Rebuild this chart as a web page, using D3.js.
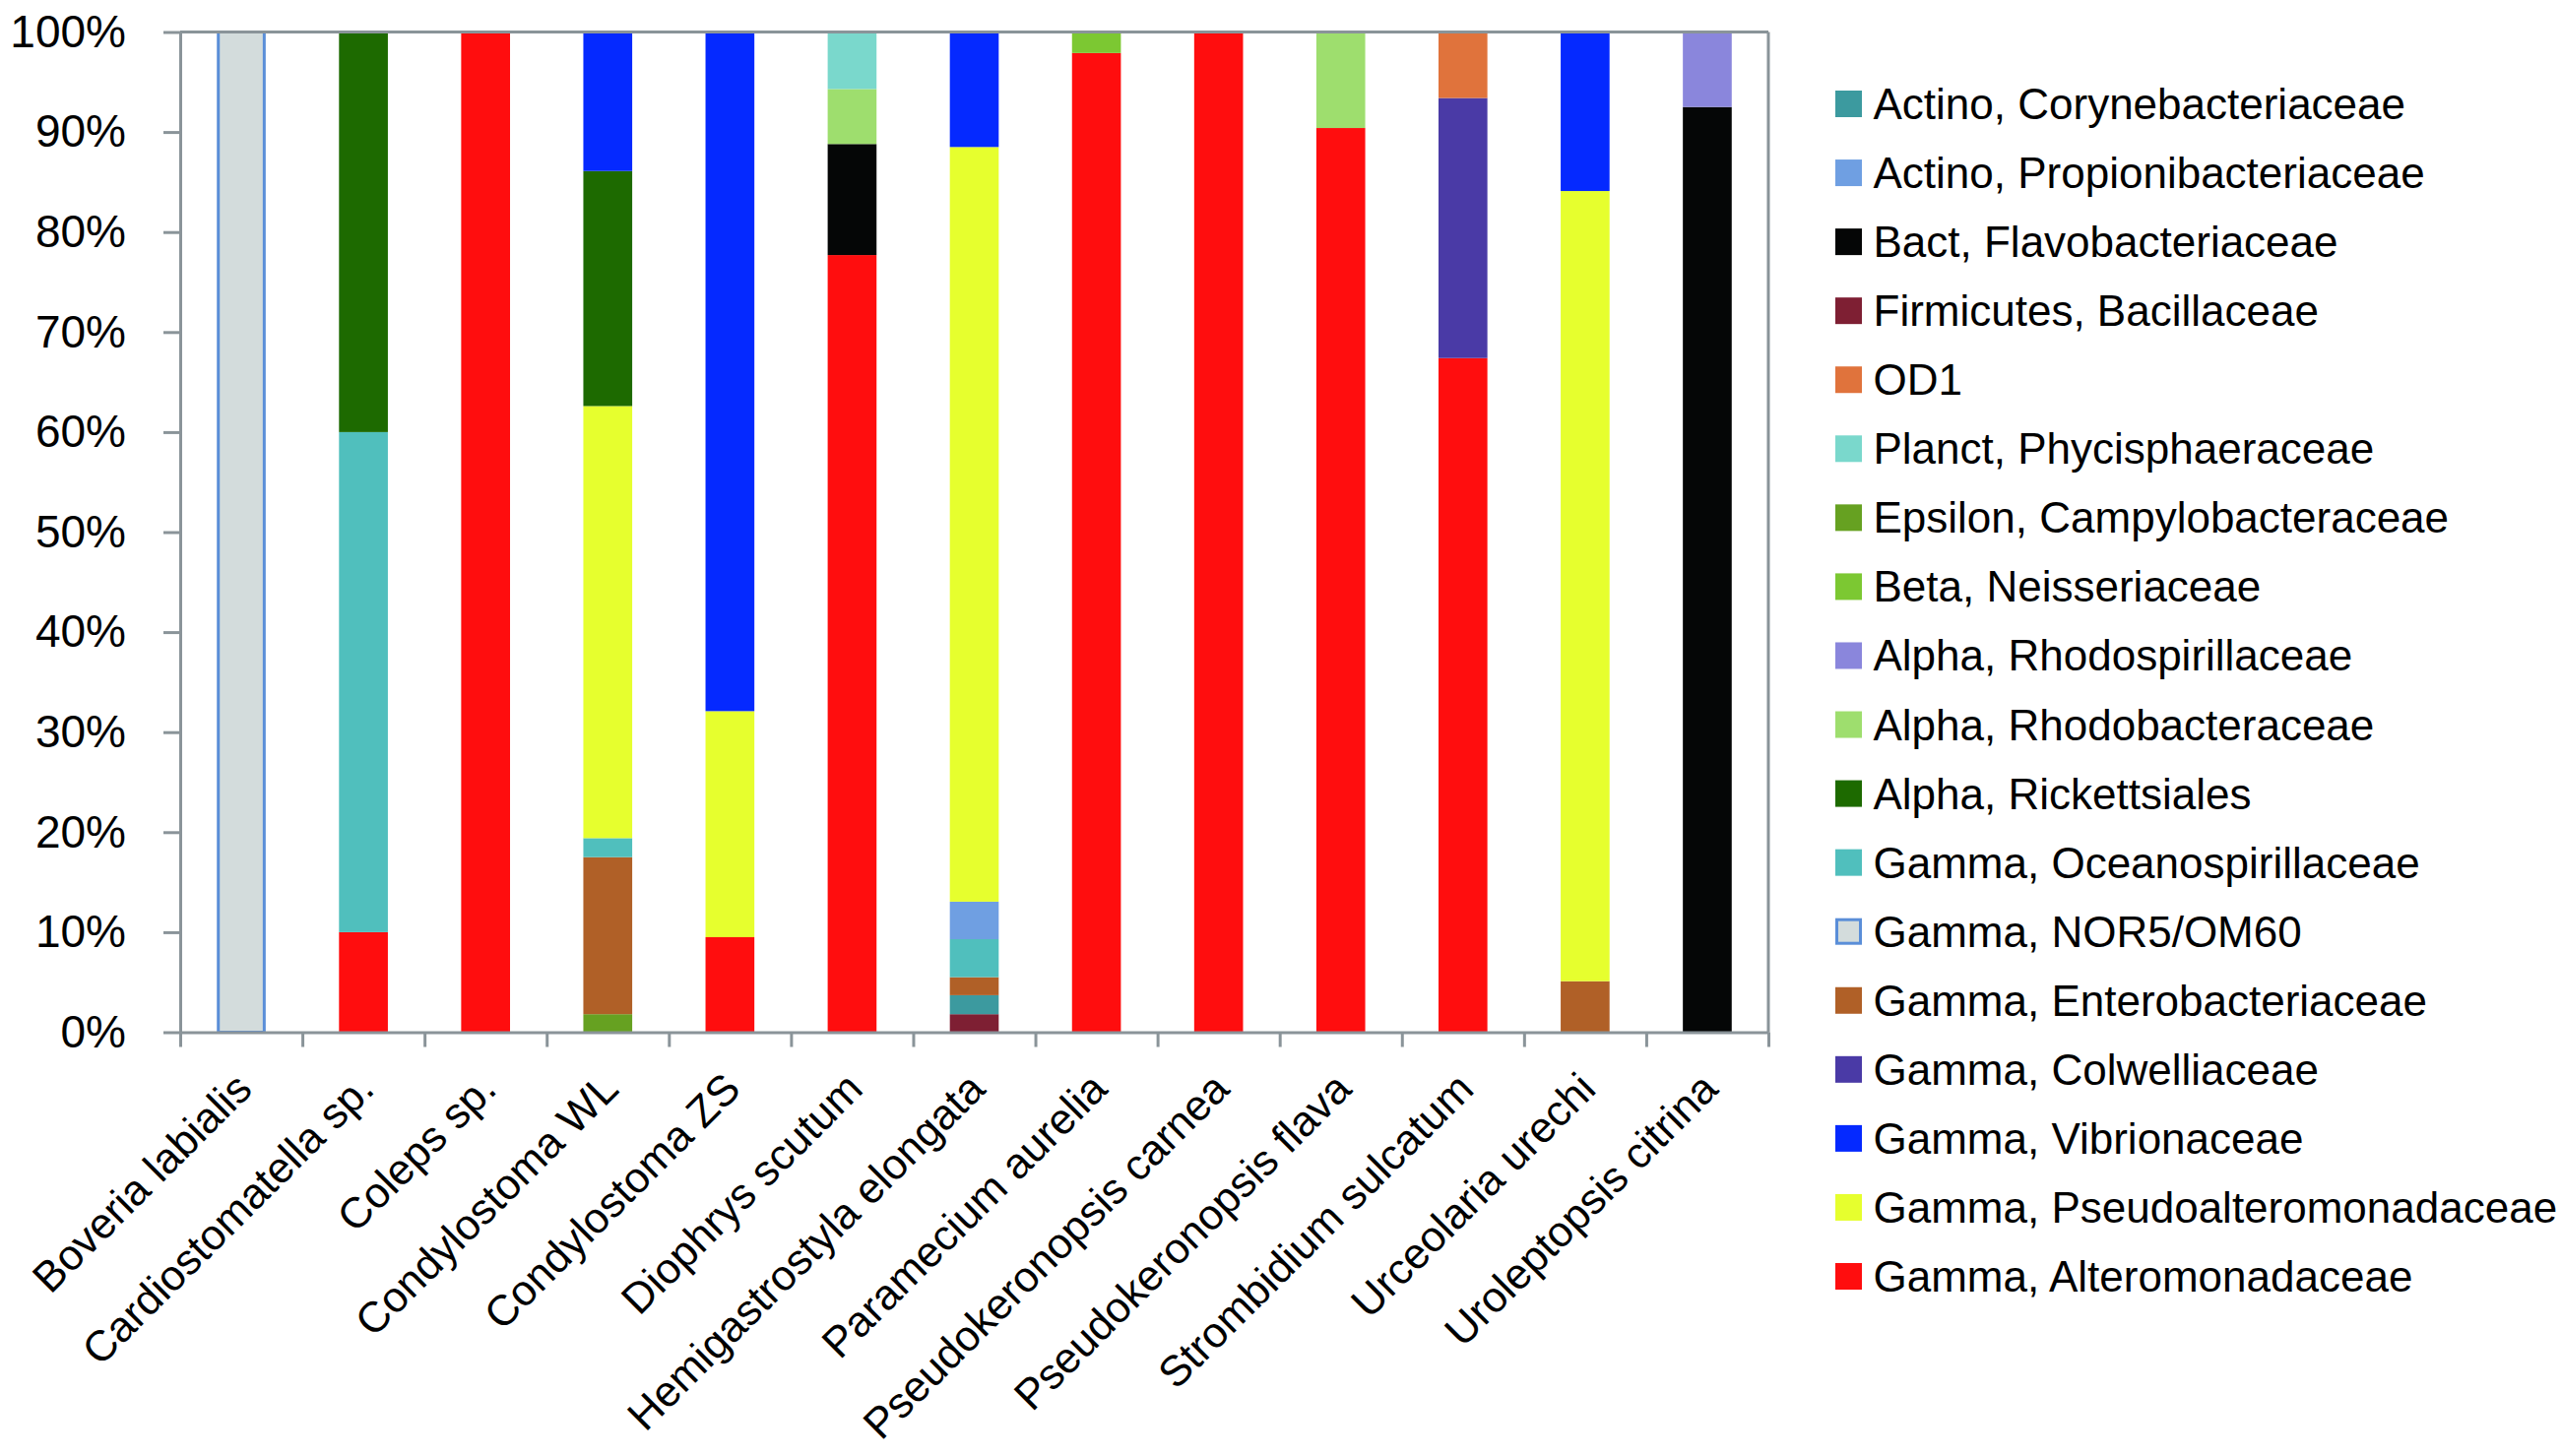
<!DOCTYPE html>
<html>
<head>
<meta charset="utf-8">
<script src="https://cdn.jsdelivr.net/npm/d3@7/dist/d3.min.js"></script>
<style>
  html, body { margin: 0; padding: 0; background: #ffffff; }
  svg { display: block; }
  text { font-family: "Liberation Sans", Arial, Helvetica, sans-serif; fill: #000; }
</style>
</head>
<body>
<svg id="chart" width="2600" height="1479"></svg>
<script>
// ---------------- DATA ----------------
const samples = [
  "Boveria labialis", "Cardiostomatella sp.", "Coleps sp.", "Condylostoma WL",
  "Condylostoma ZS", "Diophrys scutum", "Hemigastrostyla elongata", "Paramecium aurelia",
  "Pseudokeronopsis carnea", "Pseudokeronopsis flava", "Strombidium sulcatum",
  "Urceolaria urechi", "Uroleptopsis citrina"
];

// legend order (top to bottom)
const taxa = [
  "Actino, Corynebacteriaceae", "Actino, Propionibacteriaceae", "Bact, Flavobacteriaceae",
  "Firmicutes, Bacillaceae", "OD1", "Planct, Phycisphaeraceae", "Epsilon, Campylobacteraceae",
  "Beta, Neisseriaceae", "Alpha, Rhodospirillaceae", "Alpha, Rhodobacteraceae",
  "Alpha, Rickettsiales", "Gamma, Oceanospirillaceae", "Gamma, NOR5/OM60",
  "Gamma, Enterobacteriaceae", "Gamma, Colwelliaceae", "Gamma, Vibrionaceae",
  "Gamma, Pseudoalteromonadaceae", "Gamma, Alteromonadaceae"
];

const taxonColors = [
  "#3c9a9f", "#6f9fe2", "#050606", "#7e1f33", "#e0733c", "#7ad8cc", "#66a121",
  "#7cc832", "#8a86dc", "#9ede6e", "#1d6a00", "#50bfbd", "#d3dcdc",
  "#b06027", "#4a3aa6", "#0529ff", "#e6ff2e", "#ff0d0e"
];

// per-sample stacks, bottom to top: taxon names and % values
const stackTaxa = [
  ["Gamma, NOR5/OM60"],
  ["Gamma, Alteromonadaceae", "Gamma, Oceanospirillaceae", "Alpha, Rickettsiales"],
  ["Gamma, Alteromonadaceae"],
  ["Epsilon, Campylobacteraceae", "Gamma, Enterobacteriaceae", "Gamma, Oceanospirillaceae",
   "Gamma, Pseudoalteromonadaceae", "Alpha, Rickettsiales", "Gamma, Vibrionaceae"],
  ["Gamma, Alteromonadaceae", "Gamma, Pseudoalteromonadaceae", "Gamma, Vibrionaceae"],
  ["Gamma, Alteromonadaceae", "Bact, Flavobacteriaceae", "Alpha, Rhodobacteraceae", "Planct, Phycisphaeraceae"],
  ["Firmicutes, Bacillaceae", "Actino, Corynebacteriaceae", "Gamma, Enterobacteriaceae",
   "Gamma, Oceanospirillaceae", "Actino, Propionibacteriaceae", "Gamma, Pseudoalteromonadaceae",
   "Gamma, Vibrionaceae"],
  ["Gamma, Alteromonadaceae", "Beta, Neisseriaceae"],
  ["Gamma, Alteromonadaceae"],
  ["Gamma, Alteromonadaceae", "Alpha, Rhodobacteraceae"],
  ["Gamma, Alteromonadaceae", "Gamma, Colwelliaceae", "OD1"],
  ["Gamma, Enterobacteriaceae", "Gamma, Pseudoalteromonadaceae", "Gamma, Vibrionaceae"],
  ["Bact, Flavobacteriaceae", "Alpha, Rhodospirillaceae"]
];

const stackValues = [
  [100],
  [10, 50, 40],
  [100],
  [1.8, 15.7, 1.9, 43.2, 23.5, 13.9],
  [9.5, 22.6, 67.9],
  [77.7, 11.1, 5.5, 5.7],
  [1.8, 1.9, 1.8, 3.8, 3.75, 75.45, 11.5],
  [97.9, 2.1],
  [100],
  [90.4, 9.6],
  [67.4, 26.0, 6.6],
  [5.1, 79.0, 15.9],
  [92.5, 7.5]
];

const yTicks = [0, 10, 20, 30, 40, 50, 60, 70, 80, 90, 100];

// ---------------- LAYOUT ----------------
const svg = d3.select("#chart");
const plot = { left: 183, right: 1796, top: 32.5, bottom: 1048.5 };
const axisColor = "#8a9499";

const x = d3.scaleBand().domain(samples).range([plot.left, plot.right]).padding(0);
const xEdge = d3.scaleLinear().domain([0, samples.length]).range([plot.left, plot.right]);
const y = d3.scaleLinear().domain([0, 100]).range([plot.bottom, plot.top]);
const color = d3.scaleOrdinal().domain(taxa).range(taxonColors);
const barW = x.bandwidth() * 0.4;

// ---------------- BARS ----------------
const segs = [];
samples.forEach((s, i) => {
  let acc = 0;
  stackTaxa[i].forEach((t, j) => {
    const v = stackValues[i][j];
    segs.push({ sample: s, taxon: t, y0: acc, y1: acc + v });
    acc += v;
  });
});

const gBars = svg.append("g");
gBars.selectAll("rect").data(segs).join("rect")
  .attr("x", d => x(d.sample) + (x.bandwidth() - barW) / 2 + (d.taxon === "Gamma, NOR5/OM60" ? 1.5 : 0))
  .attr("width", d => barW - (d.taxon === "Gamma, NOR5/OM60" ? 3 : 0))
  .attr("y", d => y(d.y1))
  .attr("height", d => y(d.y0) - y(d.y1))
  .attr("fill", d => color(d.taxon))
  .attr("stroke", d => d.taxon === "Gamma, NOR5/OM60" ? "#5a8ed8" : "none")
  .attr("stroke-width", 3);

// ---------------- AXES ----------------
// plot frame (top and right)
svg.append("line")
  .attr("x1", plot.left).attr("x2", plot.right)
  .attr("y1", y(100)).attr("y2", y(100))
  .attr("stroke", axisColor).attr("stroke-width", 3);
svg.append("line")
  .attr("x1", plot.right).attr("x2", plot.right)
  .attr("y1", y(100)).attr("y2", plot.bottom)
  .attr("stroke", axisColor).attr("stroke-width", 3);

const yAxis = svg.append("g")
  .attr("transform", `translate(${plot.left},0)`)
  .call(d3.axisLeft(y).tickValues(yTicks).tickSize(17).tickSizeOuter(0)
        .tickPadding(38).tickFormat(d => d + "%"));
yAxis.select(".domain").attr("stroke", axisColor).attr("stroke-width", 3);
yAxis.selectAll(".tick line").attr("stroke", axisColor).attr("stroke-width", 3);
yAxis.selectAll(".tick text")
  .style("font-family", '"Liberation Sans", Arial, sans-serif')
  .style("font-size", "46px").attr("fill", "#000");

const xAxis = svg.append("g")
  .attr("transform", `translate(0,${plot.bottom})`)
  .call(d3.axisBottom(xEdge).tickValues(d3.range(samples.length + 1)).tickSize(15)
        .tickSizeOuter(0).tickFormat(""));
xAxis.select(".domain").attr("stroke", axisColor).attr("stroke-width", 3);
xAxis.selectAll(".tick line").attr("stroke", axisColor).attr("stroke-width", 3);

// category labels
svg.append("g").selectAll("text").data(samples).join("text")
  .attr("transform", d => `translate(${x(d) + x.bandwidth() / 2 + 13},${plot.bottom + 60}) rotate(-45)`)
  .attr("text-anchor", "end")
  .style("font-size", "43.5px")
  .text(d => d);

// ---------------- LEGEND ----------------
const ly = d3.scalePoint().domain(taxa).range([105.5, 1296.5]);
const gLeg = svg.append("g");
const items = gLeg.selectAll("g").data(taxa).join("g")
  .attr("transform", d => `translate(1864,${ly(d)})`);
items.append("rect")
  .attr("x", d => d === "Gamma, NOR5/OM60" ? 1.5 : 0)
  .attr("y", d => d === "Gamma, NOR5/OM60" ? -12 : -13.5)
  .attr("width", d => d === "Gamma, NOR5/OM60" ? 24 : 27)
  .attr("height", d => d === "Gamma, NOR5/OM60" ? 24 : 27)
  .attr("fill", d => color(d))
  .attr("stroke", d => d === "Gamma, NOR5/OM60" ? "#5a8ed8" : "none")
  .attr("stroke-width", 3);
items.append("text")
  .attr("x", 38.5)
  .attr("y", 15.5)
  .style("font-size", "44px")
  .text(d => d);
</script>
</body>
</html>
